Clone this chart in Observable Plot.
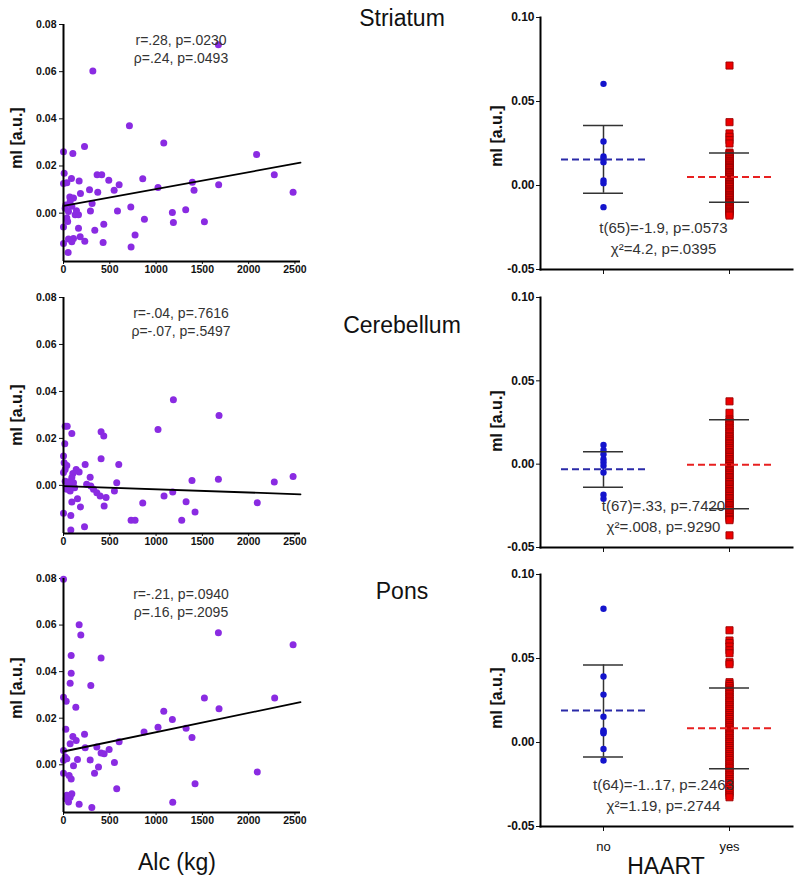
<!DOCTYPE html>
<html><head><meta charset="utf-8">
<script src="https://cdn.jsdelivr.net/npm/d3@7"></script>
<script src="https://cdn.jsdelivr.net/npm/@observablehq/plot@0.6"></script>
<style>
body{margin:0;background:#fff;font-family:"Liberation Sans",Arial,sans-serif;}
#root{position:relative;width:800px;height:880px;overflow:hidden;background:#fff;}
.panel{position:absolute;}
.lbl{position:absolute;transform:translate(-50%,-50%);white-space:nowrap;color:#111;}
.title{font-size:23px;}
.ylab{font-size:16px;font-weight:bold;transform:translate(-50%,-50%) rotate(-90deg);}
</style></head><body><div id="root"></div>
<script>
// ---------- DATA ----------
const regions = ["Striatum", "Cerebellum", "Pons"];
const alcTicks = [0, 500, 1000, 1500, 2000, 2500];
const miTicksLeft = [0, 0.02, 0.04, 0.06, 0.08];
const miTicksRight = [-0.05, 0, 0.05, 0.10];
const haartGroups = ["no", "yes"];

// Striatum scatter: Alc (kg) vs mI
const striatumAlc = [1673,317,712,1083,2086,227,0,101,2277,2480,1676,1410,1392,1021,856,601,547,489,363,413,370,281,309,291,183,169,7,0,36,86,68,108,583,727,874,1176,1320,1187,1522,435,338,162,230,428,773,730,50,0,0,18,54,90,126,36,162,72,54,108,180,90,25,45,140];
const striatumMI  = [0.0714,0.0603,0.0371,0.0297,0.0249,0.0283,0.026,0.0253,0.0163,0.0089,0.012,0.0097,0.0131,0.0109,0.0146,0.012,0.0097,0.014,0.0163,0.0163,0.0089,0.0099,0.0041,0.0009,0.0083,0.0136,0.0169,0.0126,0.0129,0.0147,0.0069,0.0064,0.0009,0.0026,-0.0026,0.0003,0.0014,-0.004,-0.0036,-0.0047,-0.0073,-0.0064,-0.0119,-0.0124,-0.0093,-0.0143,-0.0167,-0.0129,-0.0059,0.0021,0.0007,0.0029,-0.0007,-0.0021,-0.0007,0.005,-0.011,-0.0107,-0.01,-0.0121,0.0035,-0.0035,0.001];
const striatumFitX = [0, 2560];
const striatumFitY = [0.0031, 0.0214];

// Cerebellum scatter
const cerebellumAlc = [1187,1680,1021,18,40,90,406,435,14,406,597,234,0,7,18,36,137,169,101,288,2480,2277,1673,1388,575,550,295,324,360,396,460,18,54,72,36,108,90,1086,1180,1324,856,2093,439,151,183,90,0,79,1421,730,773,1277,79,227,0,30,60,120,250];
const cerebellumMI  = [0.0365,0.0298,0.0238,0.0252,0.0252,0.0221,0.0228,0.021,0.0177,0.0113,0.0089,0.0089,0.0125,0.0096,0.0068,0.0085,0.0068,0.0057,0.005,0.0035,0.0038,0.0014,0.0026,0.0021,0.0011,-0.0024,-0.0003,-0.0017,-0.0031,-0.0045,-0.0052,0.0018,-0.0003,-0.0024,-0.0017,0.0011,0.0033,-0.0045,-0.0028,-0.007,-0.0075,-0.0074,-0.0088,-0.0057,-0.0092,-0.0071,-0.0119,-0.0128,-0.0113,-0.0149,-0.0149,-0.0149,-0.019,-0.0176,0.0055,-0.001,0.0015,-0.001,0.0005];
const cerebellumFitX = [0, 2560];
const cerebellumFitY = [-0.0003, -0.0038];

// Pons scatter
const ponsAlc = [0,169,187,1673,2480,83,406,83,72,295,0,29,1522,2281,1680,1083,133,1176,1021,1324,870,1388,25,227,101,137,601,72,234,360,493,406,439,0,18,0,36,151,288,550,378,108,335,0,61,83,2093,1421,575,36,72,54,29,90,169,1180,306];
const ponsMI  = [0.0797,0.0601,0.0557,0.0567,0.0516,0.0469,0.0459,0.0393,0.035,0.034,0.029,0.0273,0.0287,0.0287,0.0241,0.023,0.0247,0.0194,0.0161,0.0157,0.0141,0.0117,0.0153,0.0131,0.0121,0.0104,0.0099,0.009,0.0073,0.0076,0.0066,0.0051,0.0047,0.0061,0.0033,0.0019,0.0026,0.0023,0.0021,0.001,-0.001,-0.0004,-0.0036,-0.0036,-0.0046,-0.0061,-0.0031,-0.0081,-0.0103,-0.0131,-0.0139,-0.016,-0.0146,-0.0124,-0.017,-0.0161,-0.0184];
const ponsFitX = [0, 2560];
const ponsFitY = [0.0057, 0.0269];

// HAART groups
const striatumNo  = [0.0605,0.0262,0.0173,0.0159,0.0139,0.0030,0.0014,-0.0129];
const striatumYes = [0.0714,0.0377,0.0310,0.0290,0.0270,0.0250,0.0196,0.0189,0.0184,0.0175,0.0169,0.0160,0.0155,0.0146,0.0138,0.0132,0.0124,0.0118,0.0109,0.0104,0.0095,0.0089,0.0080,0.0075,0.0066,0.0060,0.0052,0.0047,0.0037,0.0032,0.0023,0.0018,0.0009,0.0004,-0.0005,-0.0010,-0.0020,-0.0025,-0.0034,-0.0040,-0.0047,-0.0056,-0.0061,-0.0070,-0.0076,-0.0085,-0.0090,-0.0099,-0.0105,-0.0114,-0.0120,-0.0127,-0.0136,-0.0142,-0.0150,-0.0157,-0.0165,-0.0173,-0.0179];
const striatumMean = [0.0155, 0.0050];
const striatumLo   = [-0.0046, -0.0099];
const striatumHi   = [0.0357, 0.0194];

const cerebellumNo  = [0.0115,0.0085,0.0060,0.0030,0.0010,-0.0010,-0.0050,-0.0183,-0.0208];
const cerebellumYes = [0.0377,0.0308,0.0268,0.0256,0.0244,0.0233,0.0219,0.0208,0.0195,0.0184,0.0170,0.0161,0.0149,0.0140,0.0128,0.0119,0.0107,0.0096,0.0086,0.0073,0.0064,0.0052,0.0043,0.0030,0.0021,0.0009,-0.0001,-0.0012,-0.0022,-0.0034,-0.0043,-0.0055,-0.0064,-0.0077,-0.0086,-0.0098,-0.0107,-0.0119,-0.0128,-0.0140,-0.0149,-0.0161,-0.0170,-0.0182,-0.0191,-0.0203,-0.0212,-0.0224,-0.0233,-0.0245,-0.0254,-0.0266,-0.0275,-0.0287,-0.0296,-0.0308,-0.0317,-0.0328,-0.0336,-0.0427];
const cerebellumMean = [-0.0030, -0.0004];
const cerebellumLo   = [-0.0139, -0.0268];
const cerebellumHi   = [0.0075, 0.0266];

const ponsNo  = [0.0796,0.0393,0.0285,0.0154,0.0071,0.0063,0.0055,-0.0038,-0.0107];
const ponsYes = [0.0668,0.0607,0.0592,0.0571,0.0549,0.0531,0.0478,0.0466,0.0359,0.0348,0.0336,0.0322,0.0311,0.0298,0.0287,0.0273,0.0262,0.0249,0.0238,0.0224,0.0213,0.0200,0.0189,0.0175,0.0164,0.0151,0.0140,0.0126,0.0115,0.0102,0.0091,0.0077,0.0066,0.0053,0.0042,0.0028,0.0017,0.0004,-0.0007,-0.0021,-0.0032,-0.0045,-0.0056,-0.0070,-0.0081,-0.0094,-0.0105,-0.0119,-0.0130,-0.0143,-0.0154,-0.0168,-0.0179,-0.0192,-0.0203,-0.0217,-0.0228,-0.0241,-0.0252,-0.0266,-0.0277,-0.0290,-0.0301,-0.0315,-0.0326];
const ponsMean = [0.0190, 0.0085];
const ponsLo   = [-0.0087, -0.0156];
const ponsHi   = [0.0462, 0.0324];

const corrText = [
  ["r=.28, p=.0230", "ρ=.24, p=.0493"],
  ["r=-.04, p=.7616", "ρ=-.07, p=.5497"],
  ["r=-.21, p=.0940", "ρ=.16, p=.2095"]
];
const testText = [
  ["t(65)=-1.9, p=.0573", "χ²=4.2, p=.0395"],
  ["t(67)=.33, p=.7420", "χ²=.008, p=.9290"],
  ["t(64)=-1..17, p=.2463", "χ²=1.19, p=.2744"]
];

// ---------- LAYOUT ----------
const root = document.getElementById("root");
const FONT = "'Liberation Sans', Arial, sans-serif";
const leftTops = [24, 297, 578], leftBottoms = [261, 533, 812];
const rightTops = [17, 297, 574], rightBottoms = [269, 547, 826];
const Y_LEFT = [-0.0205, 0.08];
const Y_RIGHT = [-0.05, 0.10];

function place(el, left, top) {
  const d = document.createElement("div");
  d.className = "panel";
  d.style.left = left + "px"; d.style.top = top + "px";
  d.appendChild(el); root.appendChild(d);
}
function label(text, x, y, cls, extra) {
  const d = document.createElement("div");
  d.className = "lbl " + cls;
  d.textContent = text;
  d.style.left = x + "px"; d.style.top = y + "px";
  if (extra) Object.assign(d.style, extra);
  root.appendChild(d);
}

function leftPanel(i, alc, mi, fitX, fitY) {
  const mt = 8, mb = 24;
  const top = leftTops[i], bottom = leftBottoms[i];
  const pts = alc.map((a, k) => ({a, m: mi[k]}));
  const fit = fitX.map((x, k) => ({x, y: fitY[k]}));
  const p = Plot.plot({
    width: 304, height: mt + (bottom - top) + mb,
    marginLeft: 63, marginRight: 4, marginTop: mt, marginBottom: mb,
    style: {fontFamily: FONT, fontSize: "10.5px", fontWeight: "bold", color: "#111", background: "transparent", overflow: "visible"},
    x: {domain: [0, 2560]},
    y: {domain: Y_LEFT},
    marks: [
      Plot.axisX({ticks: alcTicks, tickSize: 3, tickPadding: 1, label: null, tickFormat: d => String(d)}),
      Plot.axisY({ticks: miTicksLeft, tickSize: 4, tickPadding: 3, label: null, tickFormat: d => d.toFixed(2)}),
      Plot.dot(pts, {x: "a", y: "m", r: 3.5, fill: "#8a2be2"}),
      Plot.line(fit, {x: "x", y: "y", stroke: "#000", strokeWidth: 1.8}),
      Plot.ruleX([0], {stroke: "#000", strokeWidth: 2}),
      Plot.ruleY([Y_LEFT[0]], {stroke: "#000", strokeWidth: 2}),
      Plot.text([corrText[i][0]], {text: d => d, frameAnchor: "top", dx: -1, dy: 11, fontSize: 14, fontWeight: "normal", fill: "#333"}),
      Plot.text([corrText[i][1]], {text: d => d, frameAnchor: "top", dx: -1, dy: 29, fontSize: 14, fontWeight: "normal", fill: "#333"})
    ]
  });
  place(p, 0, top - mt);
}

function rightPanel(i, noVals, yesVals, mean, lo, hi, showLabels) {
  const mt = 8, mb = showLabels ? 32 : 10;
  const top = rightTops[i], bottom = rightBottoms[i];
  const noPts = noVals.map(v => ({g: "no", v}));
  const yesPts = yesVals.map(v => ({g: "yes", v}));
  const stats = haartGroups.map((g, k) => ({g, mean: mean[k], lo: lo[k], hi: hi[k]}));
  const p = Plot.plot({
    width: 320, height: mt + (bottom - top) + mb,
    marginLeft: 60, marginRight: 8, marginTop: mt, marginBottom: mb,
    style: {fontFamily: FONT, fontSize: "12px", fontWeight: "bold", color: "#111", background: "transparent", overflow: "visible"},
    x: {type: "band", domain: haartGroups, padding: 0},
    y: {domain: Y_RIGHT},
    marks: [
      Plot.axisY({ticks: miTicksRight, tickSize: 4, tickPadding: 2, label: null, tickFormat: d => d.toFixed(2)}),
      Plot.axisX({tickSize: 5, tickPadding: 10, label: null, tickFormat: showLabels ? (d => d) : (() => ""), fontWeight: "normal", fontSize: 13}),
      Plot.ruleX(stats, {x: "g", y1: "lo", y2: "hi", stroke: "#333", strokeWidth: 1.5}),
      Plot.dot(noPts, {x: "g", y: "v", r: 3.2, fill: "#1414cc"}),
      Plot.dot(yesPts, {x: "g", y: "v", r: 4, symbol: "square", fill: "#ee0000", stroke: "#9a0000", strokeWidth: 0.9}),
      Plot.tickY(stats, {x: "g", y: "lo", insetLeft: 43, insetRight: 43, stroke: "#333", strokeWidth: 1.5}),
      Plot.tickY(stats, {x: "g", y: "hi", insetLeft: 43, insetRight: 43, stroke: "#333", strokeWidth: 1.5}),
      Plot.tickY(stats, {x: "g", y: "mean", insetLeft: 21, insetRight: 21, stroke: d => d.g === "no" ? "#2a2aa8" : "#e82020", strokeWidth: 2, strokeDasharray: "7,4"}),
      Plot.frame({anchor: "left", stroke: "#000", strokeWidth: 2}),
      Plot.frame({anchor: "bottom", stroke: "#000", strokeWidth: 2}),
      Plot.text([testText[i][0]], {text: d => d, frameAnchor: "bottom", dx: -3, dy: -37, fontSize: 15, fontWeight: "normal", fill: "#333"}),
      Plot.text([testText[i][1]], {text: d => d, frameAnchor: "bottom", dx: -3, dy: -16, fontSize: 15, fontWeight: "normal", fill: "#333"})
    ]
  });
  place(p, 480, top - mt);
}

leftPanel(0, striatumAlc, striatumMI, striatumFitX, striatumFitY);
leftPanel(1, cerebellumAlc, cerebellumMI, cerebellumFitX, cerebellumFitY);
leftPanel(2, ponsAlc, ponsMI, ponsFitX, ponsFitY);
rightPanel(0, striatumNo, striatumYes, striatumMean, striatumLo, striatumHi, false);
rightPanel(1, cerebellumNo, cerebellumYes, cerebellumMean, cerebellumLo, cerebellumHi, false);
rightPanel(2, ponsNo, ponsYes, ponsMean, ponsLo, ponsHi, true);

// titles and axis labels
const titleY = [18, 325, 591];
regions.forEach((r, k) => label(r, 402, titleY[k], "title"));
[138, 415, 688].forEach(y => label("mI [a.u.]", 17, y, "ylab"));
[136, 421, 698].forEach(y => label("mI [a.u.]", 497, y, "ylab"));
label("Alc (kg)", 177, 862, "title");
label("HAART", 666, 866, "title");
</script>
</body></html>
